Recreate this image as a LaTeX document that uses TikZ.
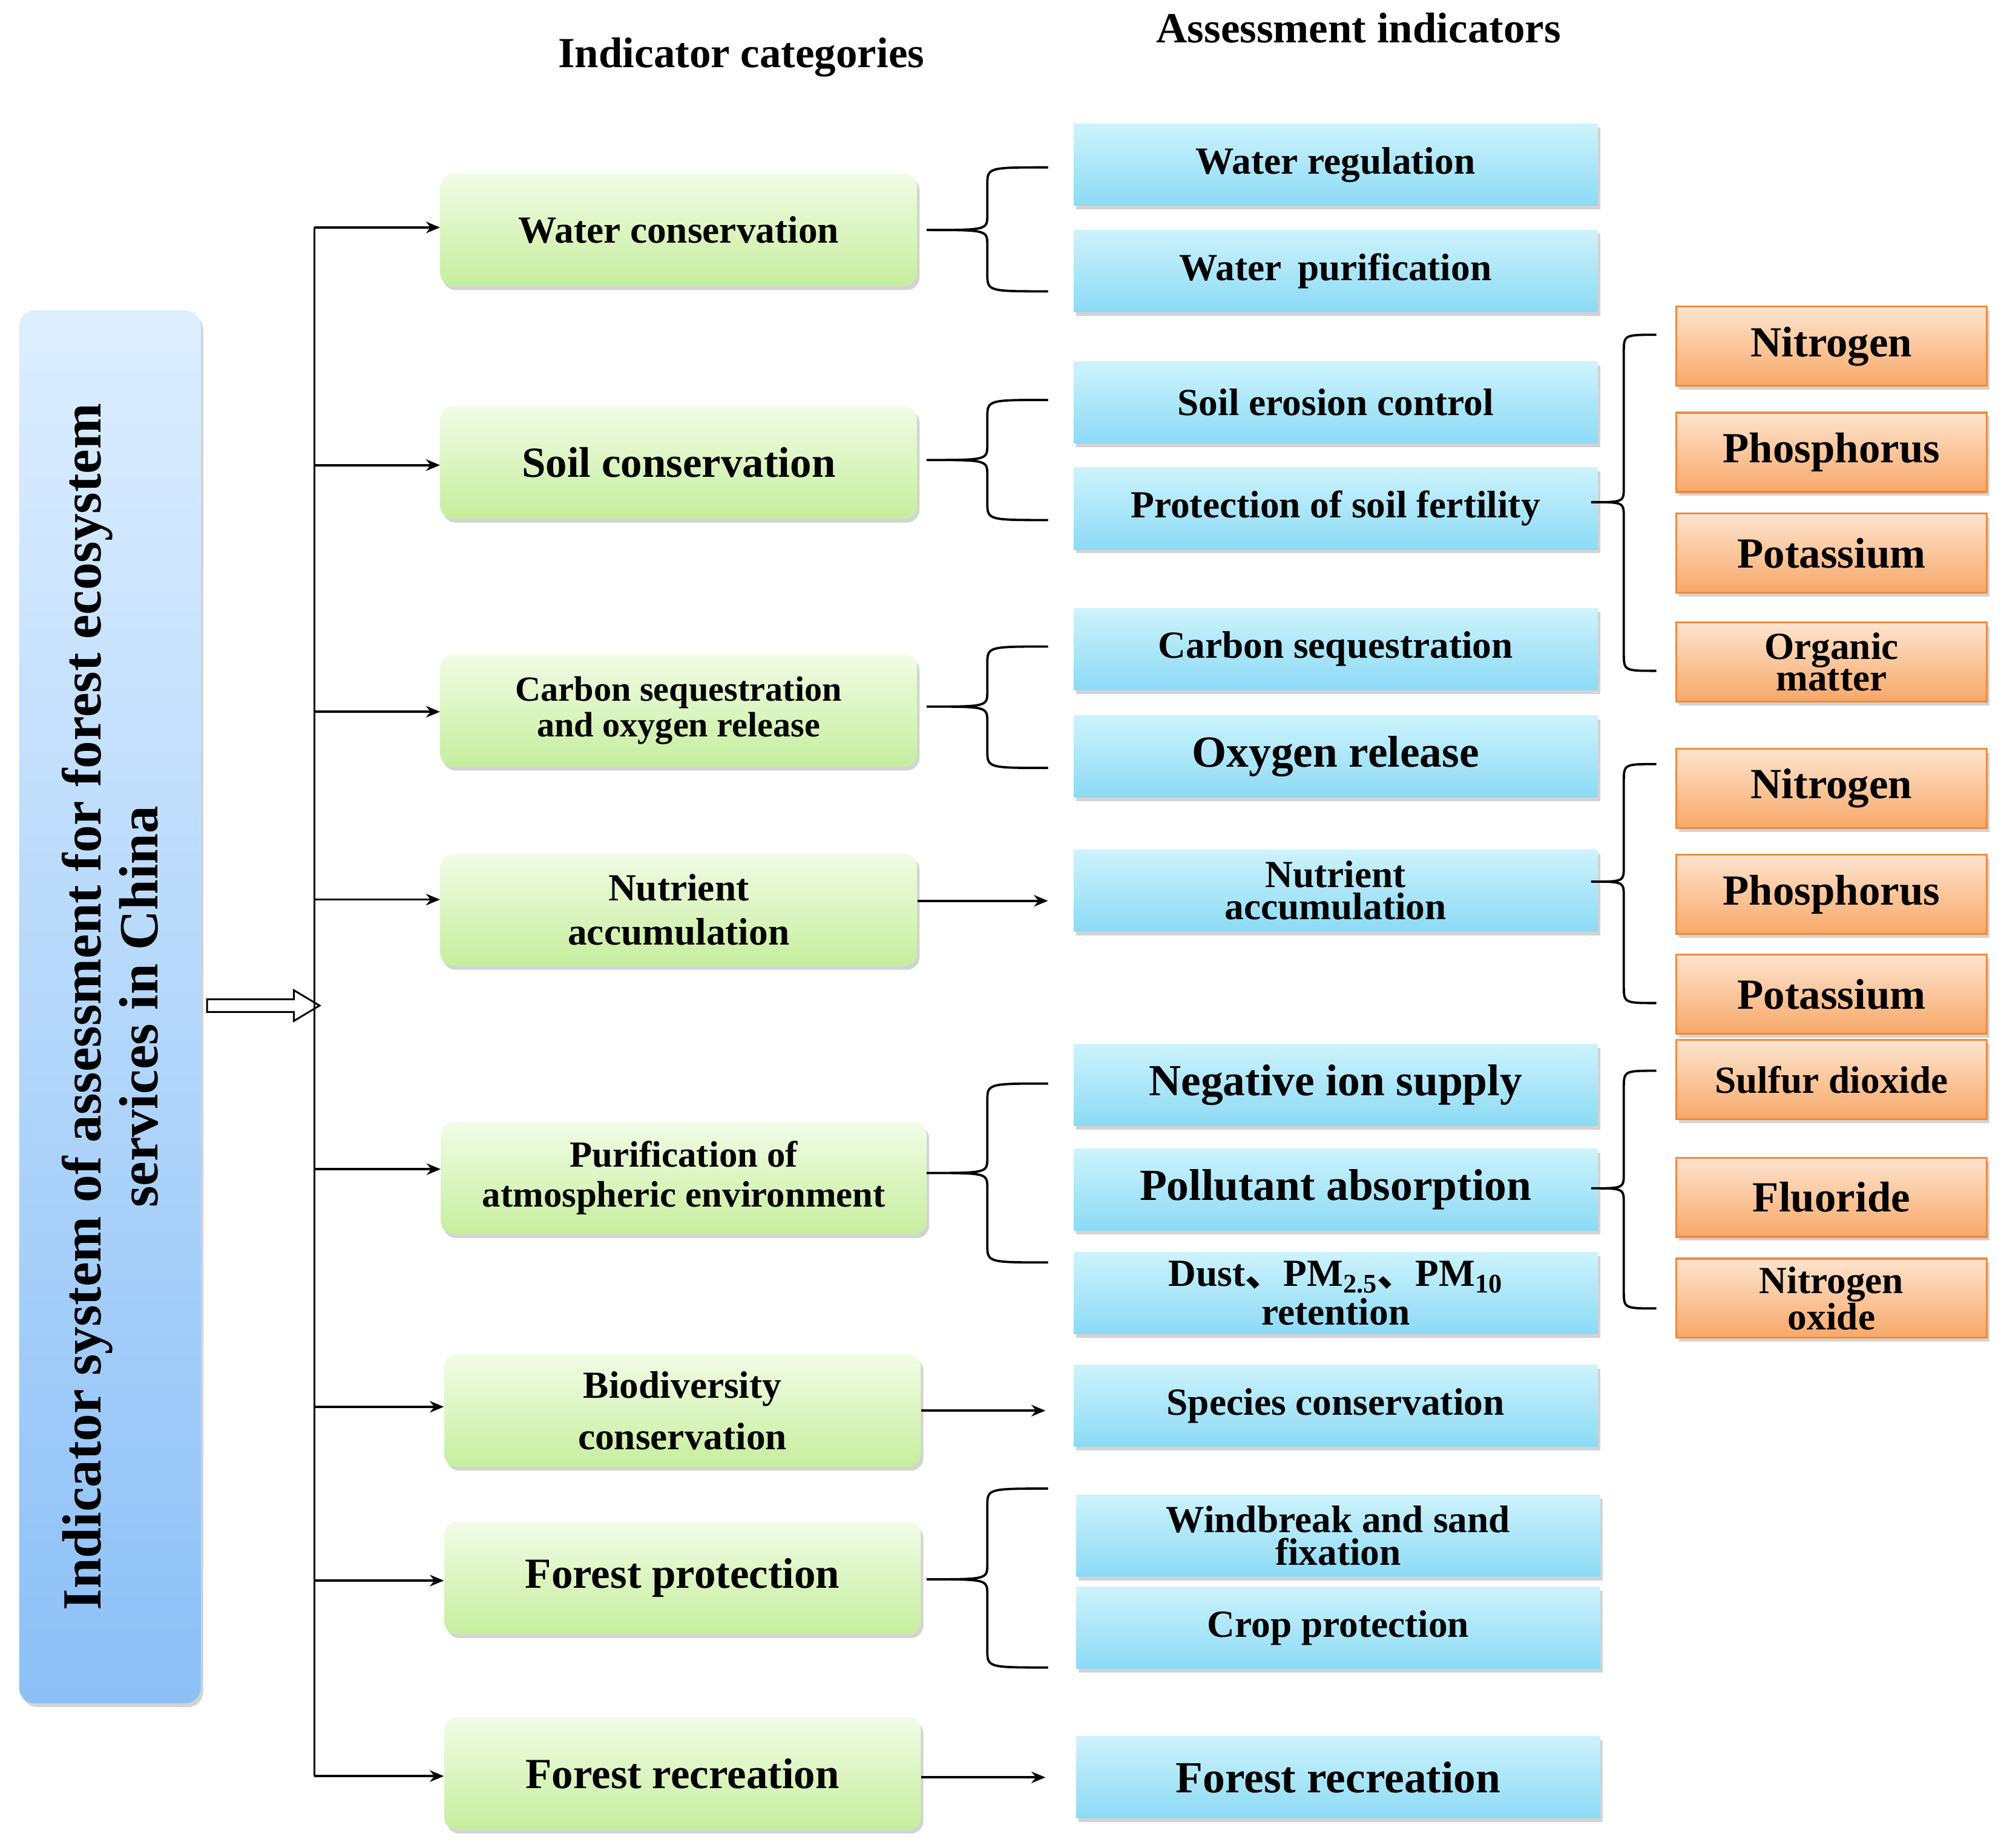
\documentclass[tikz,border=0pt]{standalone}
\usepackage{fontspec}
\setmainfont{Liberation Serif}
\newfontfamily\cjk{Noto Sans CJK SC}
\usetikzlibrary{shadows,arrows.meta}
\newcommand\fs[1]{\pgfmathsetmacro\fsz{#1*1.2}\fontsize{\fsz}{\fsz}\selectfont\bfseries}
\newcommand\mybrace[5]{% xend ytop ybot xtip ytip
  \pgfmathsetmacro\xm{(#1+#4)/2}
  \draw[line width=1.8pt] (#1,#2) .. controls (\xm,#2) .. (\xm,#2+14) -- (\xm,#5-12) .. controls (\xm,#5) .. (#4,#5) .. controls (\xm,#5) .. (\xm,#5+12) -- (\xm,#3-14) .. controls (\xm,#3) .. (#1,#3);}
\definecolor{gtop}{HTML}{F2FCE6}\definecolor{gbot}{HTML}{C6EE9E}
\definecolor{btop}{HTML}{CDF3FC}\definecolor{bbot}{HTML}{8CDAF5}
\definecolor{otop}{HTML}{FDE4CF}\definecolor{obot}{HTML}{F8A868}\definecolor{oline}{HTML}{F08A3C}
\definecolor{ltop}{HTML}{DDEEFF}\definecolor{lbot}{HTML}{8CC0F7}
\begin{document}
\begin{tikzpicture}[x=1pt,y=-1pt,
 box/.style={drop shadow={shadow xshift=2pt,shadow yshift=-3pt,opacity=0.35},align=center,inner sep=0pt},
 green/.style={box,top color=gtop,bottom color=gbot,minimum width=373pt,minimum height=88pt,rounded corners=10pt},
 blue/.style={box,top color=btop,bottom color=bbot,minimum width=410pt,minimum height=64pt},
 orange/.style={box,draw=oline,line width=1.5pt,top color=otop,bottom color=obot,minimum width=243pt,minimum height=62pt},
 arr/.style={line width=1.8pt,-{Stealth[length=11pt,width=9pt]}}]
\useasboundingbox (0,0) rectangle (1568,1446);
\node[box,rounded corners=12pt,top color=ltop,bottom color=lbot,minimum width=142pt,minimum height=1090pt] (L) at (86,788) {};
\node[rotate=90,align=center] at (86,788) {\fs{36}Indicator system of assessment for forest ecosystem\\[4pt]\fs{36}services in China};
\node at (580,45) {\fs{28}Indicator categories};
\node at (1063,22) {\fs{28}Assessment indicators};
\draw[line width=1.4pt,fill=white] (162,782)--(230,782)--(230,775)--(250,787)--(230,799)--(230,792)--(162,792)--cycle;
\coordinate (vt) at (246,178); \coordinate (vb) at (246,1390);
\draw[line width=1.8pt] (vt)--(vb);
% green
\node[green] (g1) at (531,180) {\fs{25}Water conservation};
\node[green] (g2) at (531,362) {\fs{28}Soil conservation};
\node[green] (g3) at (531,556) {\fs{23}Carbon sequestration\\[2pt]\fs{23}and oxygen release};
\node[green] (g4) at (531,712) {\fs{25}Nutrient\\[12pt]\fs{25}accumulation};
\node[green,minimum width=380pt] (g5) at (535,922) {\fs{24}Purification of\\[10pt]\fs{24}atmospheric environment};
\node[green] (g6) at (534,1104) {\fs{25}Biodiversity\\[12pt]\fs{25}conservation};
\node[green] (g7) at (534,1235) {\fs{28}Forest protection};
\node[green] (g8) at (534,1388) {\fs{28}Forest recreation};
\foreach \y/\g in {178/g1,364/g2,557/g3,704/g4,915/g5,1101/g6,1237/g7,1390/g8}
  \draw[arr] (246,\y) -- (\g.west |- 0,\y);
% blue
\node[blue] (b1) at (1045,129) {\fs{25}Water regulation};
\node[blue] (b2) at (1045,212) {\fs{25}Water\,\ purification};
\node[blue] (b3) at (1045,315) {\fs{25}Soil erosion control};
\node[blue] (b4) at (1045,398) {\fs{25}Protection of soil fertility};
\node[blue] (b5) at (1045,508) {\fs{25}Carbon sequestration};
\node[blue] (b6) at (1045,592) {\fs{29}Oxygen release};
\node[blue] (b7) at (1045,697) {\fs{25}Nutrient\\[3pt]\fs{25}accumulation};
\node[blue] (b8) at (1045,849) {\fs{29}Negative ion supply};
\node[blue] (b9) at (1045,931) {\fs{29}Pollutant absorption};
\node[blue] (b10) at (1045,1012) {\fs{25}Dust{\cjk 、}PM\textsubscript{2.5}{\cjk 、}PM\textsubscript{10}\\[3pt]\fs{25}retention};
\node[blue] (b11) at (1045,1100) {\fs{25}Species conservation};
\node[blue] (b12) at (1047,1202) {\fs{25}Windbreak and sand\\[3pt]\fs{25}fixation};
\node[blue] (b13) at (1047,1274) {\fs{25}Crop protection};
\node[blue] (b14) at (1047,1391) {\fs{29}Forest recreation};
\draw[arr] (g4.east |- 0,705) -- (820,705);
\draw[arr] (g6.east |- 0,1104) -- (818,1104);
\draw[arr] (g8.east |- 0,1391) -- (818,1391);
% orange
\node[orange] (o1) at (1433,271) {\fs{28}Nitrogen};
\node[orange] (o2) at (1433,354) {\fs{28}Phosphorus};
\node[orange] (o3) at (1433,433) {\fs{28}Potassium};
\node[orange] (o4) at (1433,518) {\fs{25}Organic\\[0pt]\fs{25}matter};
\node[orange] (o5) at (1433,617) {\fs{28}Nitrogen};
\node[orange] (o6) at (1433,700) {\fs{28}Phosphorus};
\node[orange] (o7) at (1433,778) {\fs{28}Potassium};
\node[orange] (o8) at (1433,845) {\fs{25}Sulfur dioxide};
\node[orange] (o9) at (1433,937) {\fs{28}Fluoride};
\node[orange] (o10) at (1433,1016) {\fs{25}Nitrogen\\[0pt]\fs{25}oxide};
% braces
\mybrace{820}{131}{228}{725}{180}
\mybrace{820}{313}{407}{725}{360}
\mybrace{820}{506}{601}{725}{553}
\mybrace{820}{848}{988}{725}{918}
\mybrace{820}{1165}{1305}{725}{1236}
\mybrace{1296}{262}{525}{1245}{393}
\mybrace{1296}{598}{785}{1245}{690}
\mybrace{1296}{838}{1024}{1245}{930}
\end{tikzpicture}
\end{document}
